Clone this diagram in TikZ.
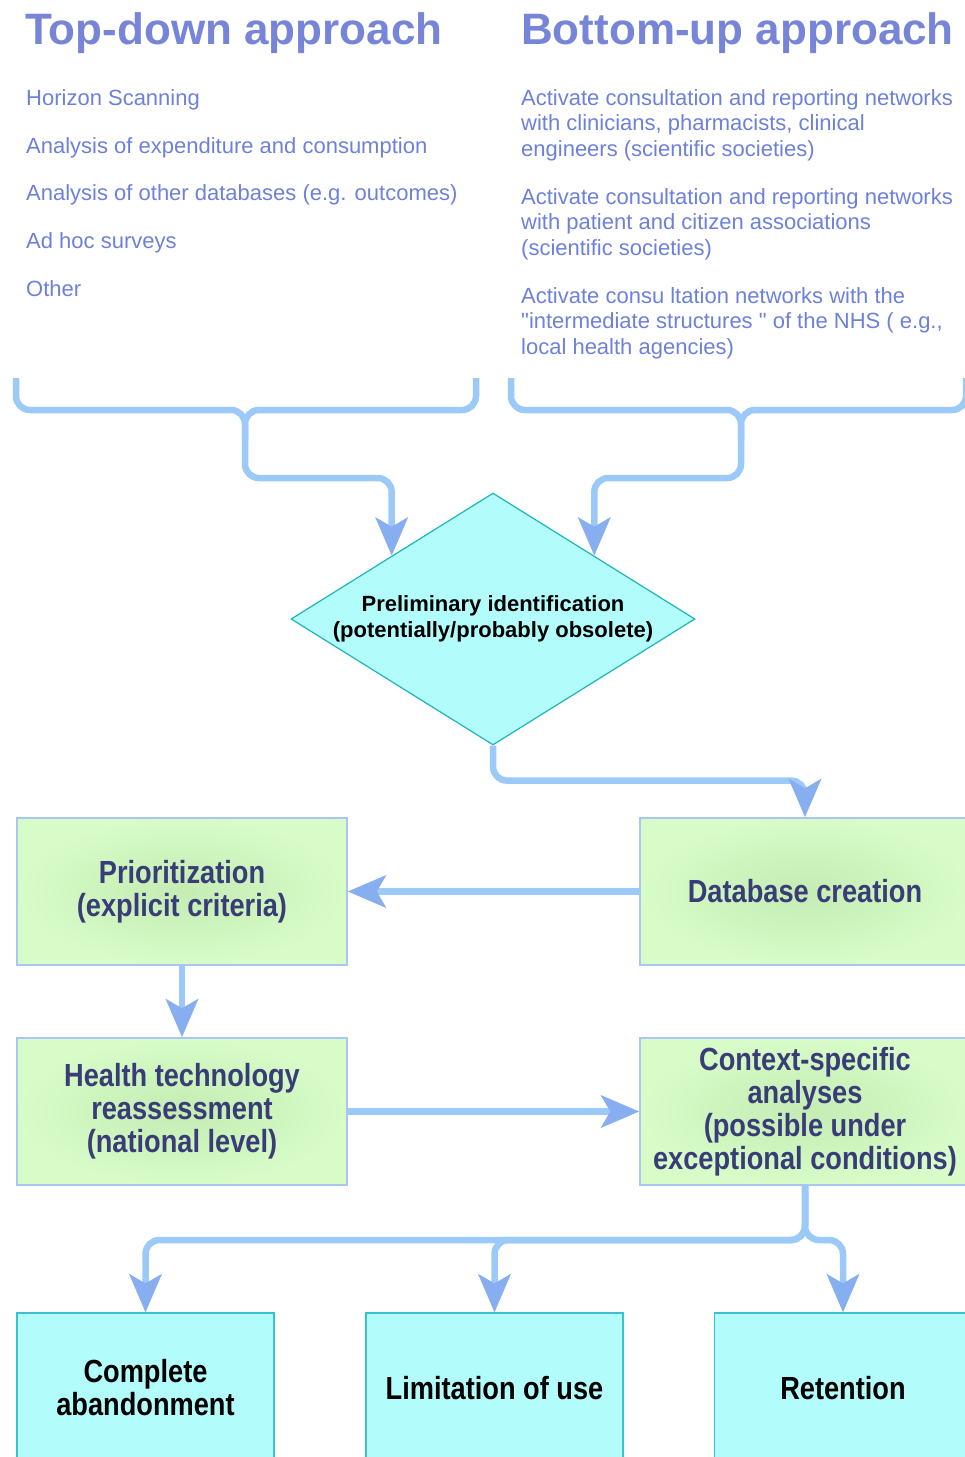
\documentclass[tikz,border=0pt]{standalone}
\usepackage{fontspec}
\setmainfont{Liberation Sans}[Ligatures=TeXOff]
\newfontfamily\narrowsans[FakeStretch=0.85]{Liberation Sans}
\usepackage{tikz}
\usetikzlibrary{positioning,arrows.meta,shapes.geometric}

\definecolor{titleblue}{HTML}{7785D9}
\definecolor{itemblue}{HTML}{6D80DC}
\definecolor{linkblue}{HTML}{9CCAF8}
\definecolor{tipblue}{HTML}{88AEF2}
\definecolor{boxgreen}{HTML}{D7FCC8}
\definecolor{boxgreenmid}{HTML}{C4ECB3}
\definecolor{greenedge}{HTML}{A9C6F5}
\definecolor{boxcyan}{HTML}{B3FCFC}
\definecolor{cyanedge}{HTML}{38C2CE}
\definecolor{diamondedge}{HTML}{1FB5B5}
\definecolor{navytext}{HTML}{3A3C78}

\begin{document}
\begin{tikzpicture}[x=1pt, y=-1pt,
  heading/.style={anchor=base west, inner sep=0pt, text=titleblue, font=\fontsize{44}{48}\selectfont\bfseries},
  item/.style={anchor=base west, inner sep=0pt, text=itemblue, font=\fontsize{22}{25.5}\selectfont},
  para/.style={anchor=north west, inner sep=0pt, align=left, text=itemblue, font=\fontsize{22}{25.5}\selectfont},
  greenbox/.style={rectangle, draw=greenedge, line width=1.5pt, inner color=boxgreenmid, outer color=boxgreen, minimum width=330pt, minimum height=147pt, align=center, text=navytext, font=\narrowsans\fontsize{32}{33}\selectfont\bfseries},
  cyanbox/.style={rectangle, draw=cyanedge, line width=1.2pt, fill=boxcyan, minimum width=257pt, minimum height=150pt, align=center, font=\narrowsans\fontsize{32}{33}\selectfont\bfseries},
  decision/.style={diamond, aspect=1.6, draw=diamondedge, line width=1.2pt, fill=boxcyan, minimum width=404pt, minimum height=252pt, inner sep=0pt, align=center, font=\fontsize{22}{26}\selectfont\bfseries},
  link/.style={draw=linkblue, line width=6.5pt, rounded corners=14pt},
  arrow/.style={link, -{Stealth[length=38pt, width=32pt, inset=9pt, color=tipblue]}}
]
  \useasboundingbox (0,0) rectangle (965,1457);
  \clip (0,0) rectangle (965,1457);

  \node[heading] (tdhead) at (25,44) {Top-down approach};
  \node[heading] (buhead) at (521,44) {Bottom-up approach};

  \node[item] (td1) at (26,105) {Horizon Scanning};
  \node[item] (td2) at (26,153) {Analysis of expenditure and consumption};
  \node[item] (td3) at (26,200) {Analysis of other databases (e.g. outcomes)};
  \node[item] (td4) at (26,248) {Ad hoc surveys};
  \node[item] (td5) at (26,296) {Other};

  \node[para] (bu1) at (521,89) {Activate consultation and reporting networks\\with clinicians, pharmacists, clinical\\engineers (scientific societies)};
  \node[para] (bu2) at (521,188) {Activate consultation and reporting networks\\with patient and citizen associations\\(scientific societies)};
  \node[para] (bu3) at (521,287) {Activate consu ltation networks with the\\"intermediate structures " of the NHS ( e.g.,\\local health agencies)};

  \coordinate (tdL) at (16,378);
  \coordinate (tdR) at (476,378);
  \coordinate (tdJ) at (245,410);
  \coordinate (tdK) at (245,478);
  \coordinate (buL) at (511,378);
  \coordinate (buR) at (966,378);
  \coordinate (buJ) at (741,410);
  \coordinate (buK) at (741,478);

  \node[decision] (prelim) at (493,619) {Preliminary identification\\(potentially/probably obsolete)};

  \node[greenbox] (prio) at (182,891.5) {Prioritization\\(explicit criteria)};
  \node[greenbox] (db) at (805,891.5) {Database creation};
  \node[greenbox] (hta) at (182,1111.5) {Health technology\\reassessment\\(national level)};
  \node[greenbox] (ctx) at (805,1111.5) {Context-specific\\analyses\\(possible under\\exceptional conditions)};
  \coordinate (ctxK) at (805,1240);

  \node[cyanbox] (aband) at (145.5,1388) {Complete\\abandonment};
  \node[cyanbox] (limit) at (494.5,1388) {Limitation of use};
  \node[cyanbox] (keep) at (843,1388) {Retention};

  \draw[link] (tdL) |- (tdJ) -- ++(0,30);
  \draw[arrow] (tdR) |- (tdJ) -- (tdK) -| (prelim.north west);
  \draw[link] (buL) |- (buJ) -- ++(0,30);
  \draw[arrow] (buR) |- (buJ) -- (buK) -| (prelim.north east);
  \draw[arrow] (prelim.south) -- ++(0,35) -| (db.north);
  \draw[arrow] (db.west) -- (prio.east);
  \draw[arrow] (prio.south) -- (hta.north);
  \draw[arrow] (hta.east) -- (ctx.west);
  \draw[arrow] (ctx.south) -- (ctxK) -| (aband.north);
  \draw[arrow] (ctx.south) -- (ctxK) -| (limit.north);
  \draw[arrow] (ctx.south) -- (ctxK) -| (keep.north);
\end{tikzpicture}
\end{document}
